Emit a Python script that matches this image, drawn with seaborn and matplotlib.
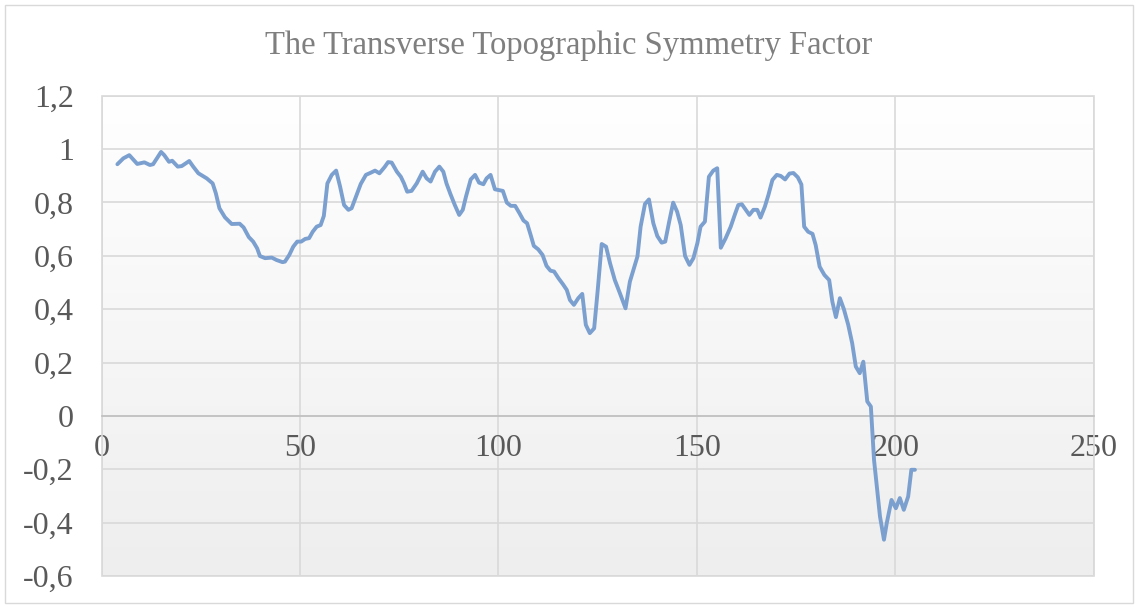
import numpy as np
import matplotlib
matplotlib.use("Agg")
import matplotlib.pyplot as plt
from matplotlib.patches import Rectangle
from matplotlib.ticker import FixedLocator, FuncFormatter
import seaborn as sns

# Position along the transverse profile and the symmetry factor at each point
distance = [
    4, 5.5, 7, 9, 10.8, 12.2, 13, 15, 15.8, 17, 17.8, 19.2, 20.2, 22.1, 23.1, 24.4,
    26.5, 28, 28.8, 29.7, 31.1, 32.8, 34.8, 35.8, 37.1, 38.2, 39.2, 39.9, 41.2, 42.9,
    44.1, 45.6, 46.2, 47.3, 48.3, 49.3, 50.3, 51.3, 52.3, 53.2, 54.2, 55.2, 56.0,
    56.9, 58.0, 59.1, 60.1, 61.1, 62.2, 63.0, 64.1, 65.3, 66.6, 67.8, 68.9, 70.0,
    71.3, 72.2, 73.1, 74.4, 75.4, 76.2, 77.0, 78.1, 79.4, 80.9, 81.9, 82.9, 84.0,
    85.1, 86.1, 86.9, 87.9, 89.0, 90.1, 91.0, 91.8, 93.0, 94.1, 95.1, 96.2, 97.0,
    98.0, 99.1, 101.1, 102.1, 103.1, 104.2, 105.3, 106.3, 107.2, 108.1, 108.9,
    110.0, 111.1, 112.1, 113.1, 114.0, 115.1, 116.2, 117.2, 118.0, 119.0, 120.1,
    121.1, 122.0, 123.0, 124.1, 125.0, 126.0, 127.1, 128.1, 129.3, 130.6, 132.0,
    133.1, 134.1, 135.0, 135.8, 136.9, 137.9, 139.0, 140.0, 141.1, 142.0, 143.0,
    144.0, 145.0, 145.9, 147.0, 148.1, 149.1, 150.1, 150.9, 152.0, 153.0, 154.1,
    155.1, 156.0, 157.2, 158.5, 159.6, 160.4, 161.3, 162.3, 163.2, 164.2, 165.2,
    166.0, 167.1, 168.0, 169.0, 170.1, 171.1, 172.2, 173.3, 174.3, 175.4, 176.3,
    177.0, 178.0, 179.1, 179.9, 180.9, 182.1, 183.3, 184.1, 185.0, 186.0, 187.0,
    188.1, 189.1, 190.0, 191.0, 191.9, 192.9, 193.8, 194.6, 195.4, 196.1, 197.1,
    197.8, 199.0, 200.1, 201.1, 202.1, 203.2, 204.0, 204.9,
]
symmetry = [
    0.943, 0.965, 0.977, 0.944, 0.950, 0.940, 0.943, 0.989, 0.977, 0.952, 0.956,
    0.934, 0.936, 0.955, 0.934, 0.909, 0.890, 0.871, 0.834, 0.778, 0.744, 0.719,
    0.720, 0.706, 0.670, 0.653, 0.628, 0.599, 0.591, 0.593, 0.584, 0.576, 0.578,
    0.603, 0.634, 0.653, 0.653, 0.663, 0.666, 0.690, 0.709, 0.715, 0.749, 0.871,
    0.903, 0.919, 0.859, 0.790, 0.772, 0.778, 0.821, 0.869, 0.903, 0.911, 0.919,
    0.909, 0.932, 0.951, 0.949, 0.915, 0.896, 0.871, 0.840, 0.843, 0.871, 0.915,
    0.890, 0.878, 0.915, 0.934, 0.915, 0.871, 0.831, 0.790, 0.753, 0.772, 0.821,
    0.886, 0.903, 0.874, 0.868, 0.890, 0.903, 0.849, 0.843, 0.799, 0.787, 0.787,
    0.759, 0.732, 0.722, 0.678, 0.637, 0.624, 0.603, 0.562, 0.544, 0.541, 0.516,
    0.494, 0.472, 0.434, 0.416, 0.441, 0.457, 0.341, 0.310, 0.328, 0.472, 0.644,
    0.634, 0.572, 0.509, 0.459, 0.403, 0.503, 0.553, 0.597, 0.709, 0.794, 0.811,
    0.722, 0.674, 0.649, 0.653, 0.728, 0.799, 0.765, 0.715, 0.599, 0.566, 0.591,
    0.647, 0.709, 0.728, 0.896, 0.919, 0.928, 0.630, 0.665, 0.709, 0.757, 0.790,
    0.793, 0.772, 0.753, 0.772, 0.772, 0.743, 0.784, 0.828, 0.884, 0.903, 0.899,
    0.886, 0.908, 0.910, 0.894, 0.867, 0.709, 0.690, 0.682, 0.640, 0.559, 0.528,
    0.509, 0.428, 0.370, 0.441, 0.400, 0.341, 0.272, 0.185, 0.160, 0.203, 0.054,
    0.035, -0.165, -0.277, -0.377, -0.464, -0.402, -0.315, -0.346, -0.308, -0.352,
    -0.302, -0.202, -0.202,
]

x_ticks = [0, 50, 100, 150, 200, 250]
y_ticks = [-0.6, -0.4, -0.2, 0, 0.2, 0.4, 0.6, 0.8, 1.0, 1.2]
title = "The Transverse Topographic Symmetry Factor"

sns.set_theme(style="white")
plt.rcParams["font.family"] = ["Liberation Serif", "DejaVu Serif"]

fig = plt.figure(figsize=(11.38, 6.06), dpi=100)
ax = fig.add_axes([0.0892, 0.0495, 0.8721, 0.7927])

# Soft vertical gradient behind the plot area
grad = np.linspace(1.0, 0.0, 256).reshape(-1, 1)
grad_cmap = matplotlib.colors.LinearSegmentedColormap.from_list(
    "bg", ["#eeeeee", "#ffffff"])
ax.imshow(grad, extent=[0, 1, 0, 1], transform=ax.transAxes, aspect="auto",
          cmap=grad_cmap, vmin=0, vmax=1, zorder=-2, origin="upper")

sns.lineplot(x=distance, y=symmetry, ax=ax, color="#7ba0cf", linewidth=2.8,
             estimator=None, sort=False, zorder=3)

ax.set_xlim(0, 250)
ax.set_ylim(-0.6, 1.2)
ax.xaxis.set_major_locator(FixedLocator(x_ticks))
ax.yaxis.set_major_locator(FixedLocator(y_ticks))
ax.yaxis.set_major_formatter(FuncFormatter(
    lambda v, _: ("%g" % round(v, 1)).replace(".", ",")))
ax.xaxis.set_major_formatter(FuncFormatter(lambda v, _: "%d" % v))

ax.set_axisbelow(True)
ax.grid(True, color="#d9d9d9", linewidth=1.2)

for side in ["left", "right", "top"]:
    ax.spines[side].set_visible(False)
ax.spines["bottom"].set_position(("data", 0))
ax.spines["bottom"].set_color("#bfbfbf")
ax.spines["bottom"].set_linewidth(1.2)
ax.spines["bottom"].set_zorder(1)

ax.add_patch(Rectangle((0, 0), 1, 1, transform=ax.transAxes, fill=False,
                       edgecolor="#d9d9d9", linewidth=1.2, zorder=1, clip_on=False))

ax.tick_params(axis="both", length=0, labelsize=23, colors="#595959")
ax.tick_params(axis="y", pad=20)
ax.tick_params(axis="x", pad=13)
ax.set_xlabel("")
ax.set_ylabel("")

fig.text(0.5, 1 - 46 / 606, title, ha="center", va="center", fontsize=23.5,
         color="#7f7f7f")

# Chart frame
fig.patches.append(Rectangle((5 / 1138, 3 / 606), 1128 / 1138, 598 / 606,
                             transform=fig.transFigure, fill=False,
                             edgecolor="#d9d9d9", linewidth=1.0))

fig.savefig("out.png", dpi=100)
